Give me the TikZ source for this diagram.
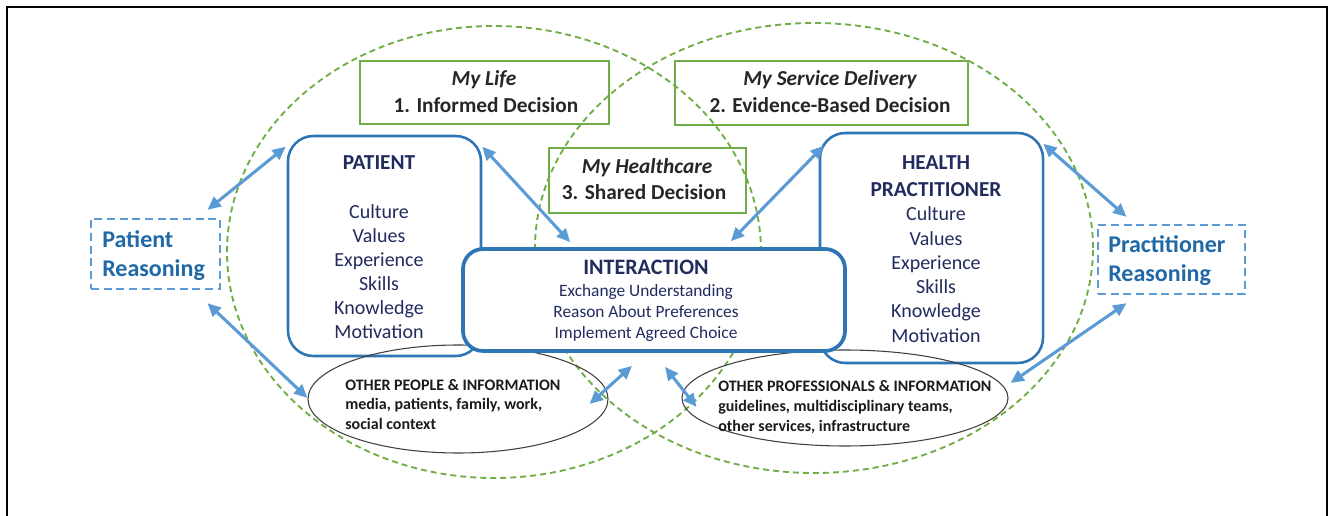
\documentclass[tikz,border=0pt]{standalone}
\usepackage{fontspec}
\setmainfont{Carlito}
\usetikzlibrary{arrows.meta,calc,shapes.geometric}
\definecolor{grn}{HTML}{70AD47}
\definecolor{bbox}{HTML}{2E75B6}
\definecolor{arr}{HTML}{5B9BD5}
\definecolor{navy}{HTML}{222B5E}
\definecolor{rtxt}{HTML}{2068A6}
\definecolor{gtxt}{HTML}{262626}
\definecolor{etxt}{HTML}{1A1A1A}
\definecolor{egray}{HTML}{404040}
\begin{document}
\begin{tikzpicture}[x=0.75pt,y=-0.75pt,
  greenbox/.style={draw=grn,line width=1.1pt,inner sep=0pt,rectangle},
  bluebox/.style={draw=bbox,line width=1.9pt,inner sep=0pt,rectangle,rounded corners=19pt,fill=white},
  reasonbox/.style={draw=arr,line width=1.8pt,dash pattern=on 6pt off 3.5pt,inner sep=0pt,rectangle},
  smallell/.style={draw=egray,line width=0.8pt,ellipse,inner sep=0pt},
  bigell/.style={draw=grn,line width=1.4pt,dash pattern=on 4.5pt off 3pt},
  twoway/.style={draw=arr,line width=2.3pt,{Triangle[length=10pt,width=9pt]}-{Triangle[length=10pt,width=9pt]}},
  itemtxt/.style={anchor=base,text=navy,font=\fontsize{15}{18}\selectfont,inner sep=0pt},
  headtxt/.style={anchor=base,text=navy,font=\fontsize{16}{19}\selectfont\bfseries,inner sep=0pt},
  inttxt/.style={anchor=base,text=navy,font=\fontsize{13}{15}\selectfont,inner sep=0pt},
  gtext/.style={anchor=base,text=gtxt,font=\fontsize{16}{19}\selectfont\bfseries,inner sep=0pt},
  gitext/.style={anchor=base,text=gtxt,font=\fontsize{16}{19}\selectfont\bfseries\itshape,inner sep=0pt},
  rtext/.style={anchor=base west,text=rtxt,font=\fontsize{18}{21}\selectfont\bfseries,inner sep=0pt},
  etext/.style={anchor=base west,text=etxt,font=\fontsize{12}{14}\selectfont\bfseries,inner sep=0pt}]
\useasboundingbox (0,0) rectangle (1330,516);
% frame
\draw[line width=1.5pt,line join=miter] (7,516) -- (7,7) -- (1327,7) -- (1327,516);

% big dashed ellipses
\draw[bigell] (494,252) ellipse [x radius=200.25pt, y radius=169.5pt];
\draw[bigell] (814,248) ellipse [x radius=209.25pt, y radius=168.75pt];

% green boxes
\node[greenbox,minimum width=186.75pt,minimum height=47.25pt] (mylife) at (484.5,92.5) {};
\node[gitext] at (484,86) {My Life};
\node[gtext] at (486,113) {1. Informed Decision};
\node[greenbox,minimum width=219.75pt,minimum height=48pt] (service) at (821.5,93) {};
\node[gitext] at (830,86) {My Service Delivery};
\node[gtext] at (830,113) {2. Evidence-Based Decision};
\node[greenbox,minimum width=147.75pt,minimum height=48.75pt] (healthcare) at (647.5,180.5) {};
\node[gitext] at (647,174) {My Healthcare};
\node[gtext] at (644,200) {3. Shared Decision};

% patient and practitioner boxes
\node[bluebox,minimum width=144.75pt,minimum height=165pt] (patient) at (384.5,246) {};
\node[headtxt] at (379,170) {PATIENT};
\node[itemtxt] at (379,219) {Culture};
\node[itemtxt] at (379,243) {Values};
\node[itemtxt] at (379,267) {Experience};
\node[itemtxt] at (379,291) {Skills};
\node[itemtxt] at (379,315) {Knowledge};
\node[itemtxt] at (379,339) {Motivation};

\node[bluebox,minimum width=167.25pt,minimum height=172.5pt] (health) at (931.5,248) {};
\node[headtxt] at (936,170) {HEALTH};
\node[headtxt] at (936,197) {PRACTITIONER};
\node[itemtxt] at (936,221) {Culture};
\node[itemtxt] at (936,246) {Values};
\node[itemtxt] at (936,270) {Experience};
\node[itemtxt] at (936,294) {Skills};
\node[itemtxt] at (936,318) {Knowledge};
\node[itemtxt] at (936,342) {Motivation};

% small ellipses
\node[smallell,minimum width=225pt,minimum height=81pt] (people) at (458,399) {};
\node[etext] at (345,390) {OTHER PEOPLE \& INFORMATION};
\node[etext] at (345,409) {media, patients, family, work,};
\node[etext] at (345,429) {social context};
\node[smallell,minimum width=244.5pt,minimum height=72pt] (prof) at (845,398) {};
\node[etext] at (718,391) {OTHER PROFESSIONALS \& INFORMATION};
\node[etext] at (718,411) {guidelines, multidisciplinary teams,};
\node[etext] at (718,431) {other services, infrastructure};

% interaction box
\node[bluebox,line width=2.8pt,rounded corners=15pt,minimum width=286.5pt,minimum height=76.5pt] (interaction) at (654,300) {};
\node[headtxt,font=\fontsize{16.5}{19}\selectfont\bfseries] at (646,275) {INTERACTION};
\node[inttxt] at (646,297) {Exchange Understanding};
\node[inttxt] at (646,318) {Reason About Preferences};
\node[inttxt] at (646,339) {Implement Agreed Choice};

% reasoning boxes
\node[reasonbox,minimum width=96.75pt,minimum height=52.5pt] (preason) at (155.5,254) {};
\node[rtext] at (102,248) {Patient};
\node[rtext] at (102,277) {Reasoning};
\node[reasonbox,minimum width=110.25pt,minimum height=51.75pt] (prreason) at (1171.5,259.5) {};
\node[rtext] at (1108,253) {Practitioner};
\node[rtext] at (1108,282) {Reasoning};

% arrows
\draw[twoway] ($(patient.north west)+(-1,12)$) -- ($(preason.north)+(52,-8)$);
\draw[twoway] ($(preason.south)+(52,13)$) -- ($(people.west)+(0,-1)$);
\draw[twoway] ($(patient.north east)+(0,12)$) -- ($(interaction.north west)+(109,-5)$);
\draw[twoway] ($(health.north west)+(5,14)$) -- ($(interaction.north east)+(-116,-6)$);
\draw[twoway] ($(health.north east)+(-1,12)$) -- ($(prreason.north)+(-45,-7)$);
\draw[twoway] ($(prreason.south)+(-45,8)$) -- ($(prof.east)+(2,-15)$);
\draw[twoway] ($(interaction.south)+(-22,13)$) -- ($(people.east)+(-19,5)$);
\draw[twoway] ($(interaction.south)+(11,14)$) -- ($(prof.west)+(15,9)$);
\end{tikzpicture}
\end{document}
